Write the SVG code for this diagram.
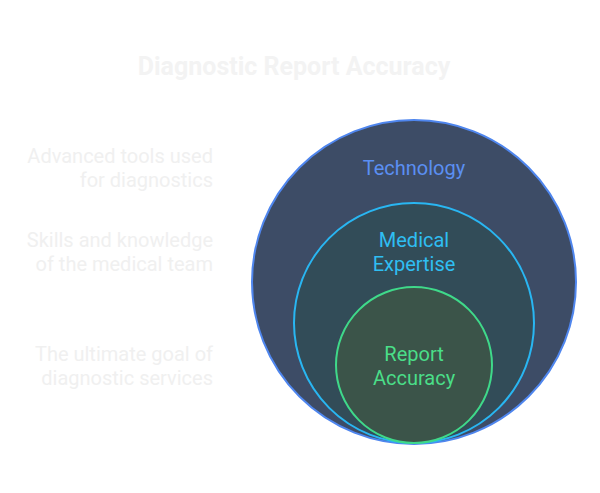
<svg xmlns="http://www.w3.org/2000/svg" width="600" height="493" viewBox="0 0 600 493">
<style>
text{font-family:Roboto,"Liberation Sans",sans-serif;}
.title{font-size:25px;font-weight:bold;fill:#f3f3f3;text-anchor:middle;}
.desc{font-size:20px;fill:#f0f0f0;text-anchor:end;}
.lbl{font-size:20px;text-anchor:middle;}
</style>
<rect width="600" height="493" fill="#ffffff"/>
<text class="title" x="294" y="75">Diagnostic Report Accuracy</text>
<g id="technology">
<circle cx="414" cy="282" r="162" fill="#3d4c66" stroke="#4f86ee" stroke-width="2"/>
<text class="lbl" x="414" y="175" fill="#5b8ff2">Technology</text>
</g>
<g id="medical-expertise">
<circle cx="414" cy="323" r="120" fill="#324c58" stroke="#29b6f2" stroke-width="2"/>
<text class="lbl" x="414" y="247" fill="#2fbef2">Medical</text>
<text class="lbl" x="414" y="271" fill="#2fbef2">Expertise</text>
</g>
<g id="report-accuracy">
<circle cx="414" cy="365" r="78" fill="#3b5449" stroke="#3fd98a" stroke-width="2"/>
<text class="lbl" x="414" y="361" fill="#4ade88">Report</text>
<text class="lbl" x="414" y="385" fill="#4ade88">Accuracy</text>
</g>
<g id="descriptions">
<text class="desc" x="213" y="163">Advanced tools used</text>
<text class="desc" x="213" y="187">for diagnostics</text>
<text class="desc" x="213" y="247">Skills and knowledge</text>
<text class="desc" x="213" y="271">of the medical team</text>
<text class="desc" x="213" y="361">The ultimate goal of</text>
<text class="desc" x="213" y="385">diagnostic services</text>
</g>
<g id="connectors"></g>
</svg>
